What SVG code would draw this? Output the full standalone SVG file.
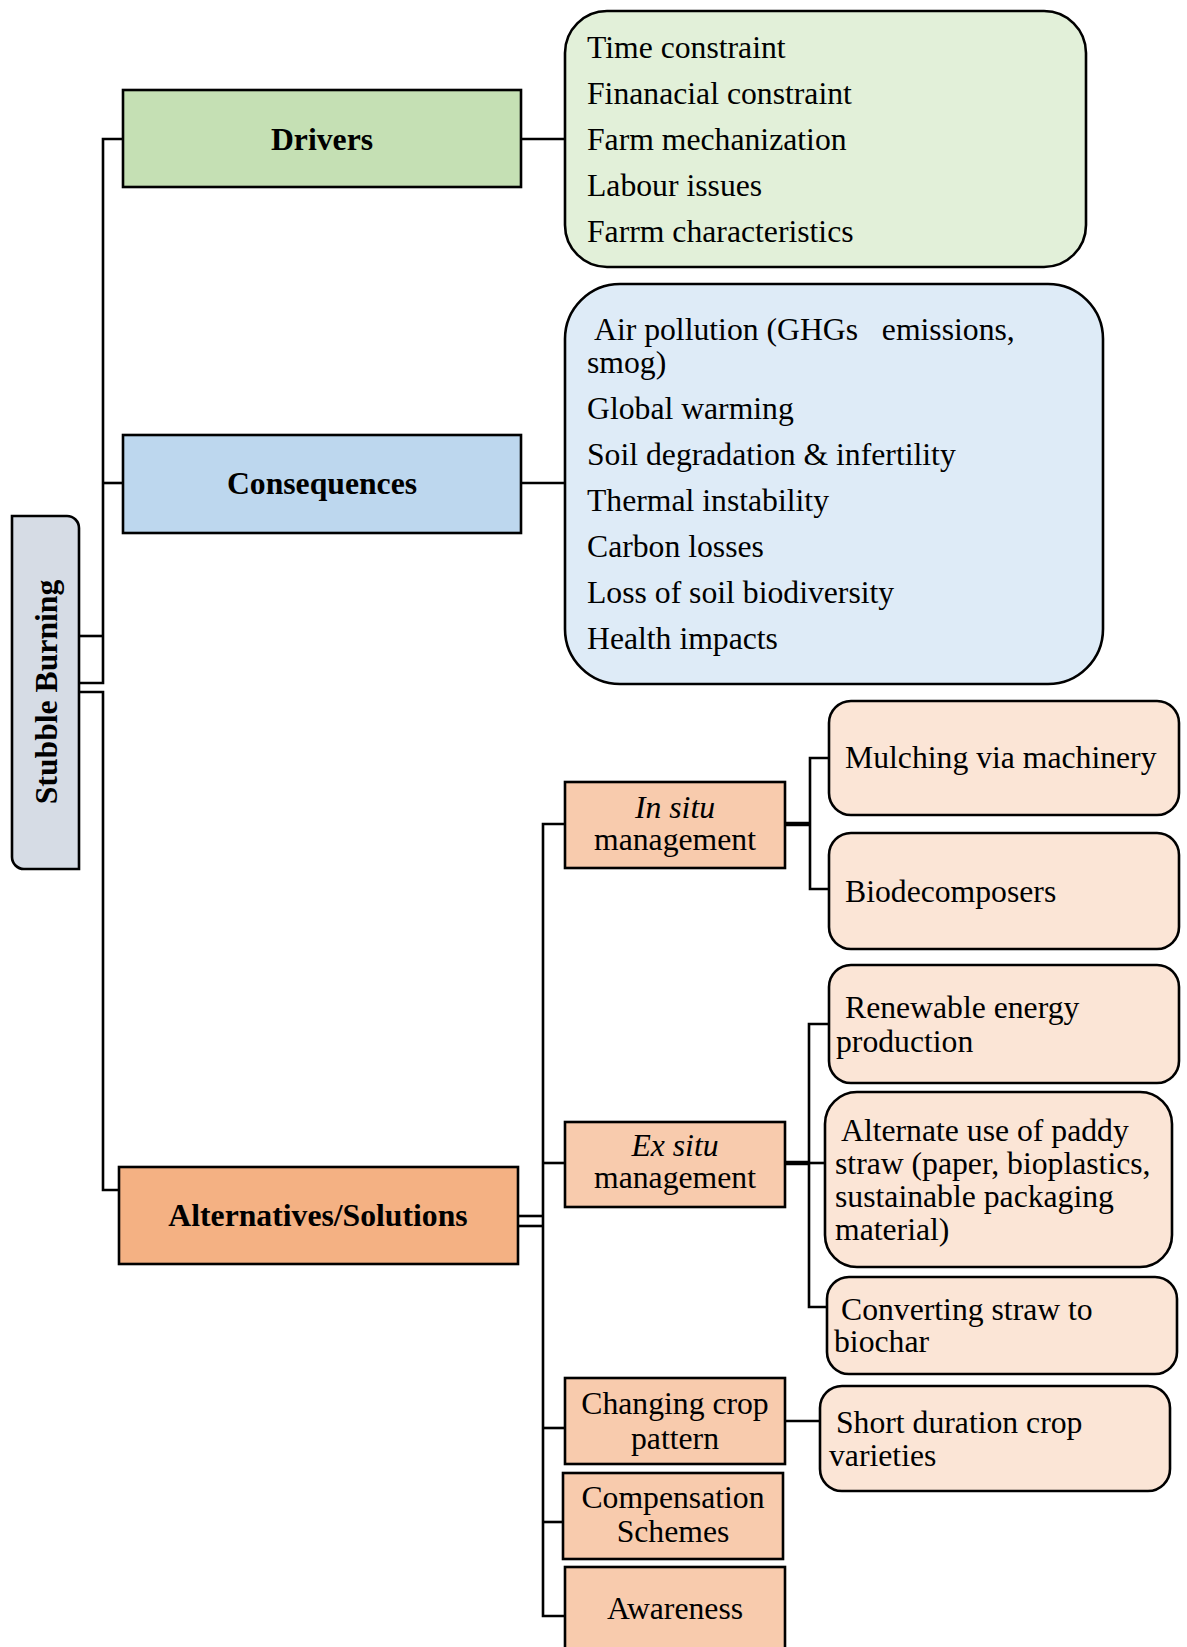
<svg xmlns="http://www.w3.org/2000/svg" width="1187" height="1647" viewBox="0 0 1187 1647">
<style>
text{font-family:"Liberation Serif","Times New Roman",serif;font-size:31.7px;fill:#000}
.b{font-weight:bold}
.c{text-anchor:middle}
.i{font-style:italic}
.box{stroke:#000;stroke-width:2.6}
.ln{fill:none;stroke:#000;stroke-width:2.6}
.thk{fill:none;stroke:#000;stroke-width:4.5}
</style>
<rect width="1187" height="1647" fill="#fff"/>
<g id="connectors">
<polyline class="ln" points="123,139 103,139 103,683 79,683"/>
<line class="ln" x1="79" y1="636" x2="103" y2="636"/>
<line class="ln" x1="103" y1="483" x2="123" y2="483"/>
<polyline class="ln" points="79,692 103,692 103,1190 119,1190"/>
<line class="ln" x1="521" y1="139" x2="565" y2="139"/>
<line class="ln" x1="521" y1="483" x2="565" y2="483"/>
<line class="ln" x1="518" y1="1216" x2="543" y2="1216"/>
<line class="ln" x1="518" y1="1226" x2="543" y2="1226"/>
<polyline class="ln" points="565,824 543,824 543,1616 565,1616"/>
<line class="ln" x1="543" y1="1163" x2="565" y2="1163"/>
<line class="ln" x1="543" y1="1428" x2="565" y2="1428"/>
<line class="ln" x1="543" y1="1522" x2="563" y2="1522"/>
<line class="thk" x1="785" y1="824" x2="810" y2="824"/>
<polyline class="ln" points="829,758 810,758 810,889 829,889"/>
<line class="thk" x1="785" y1="1163" x2="809" y2="1163"/>
<line class="ln" x1="809" y1="1163" x2="825" y2="1163"/>
<polyline class="ln" points="829,1024 809,1024 809,1307 827,1307"/>
<line class="ln" x1="785" y1="1421" x2="820" y2="1421"/>
</g>
<g id="stubble">
<path class="box" fill="#d6dce5" d="M12,516 H67 A12,12 0 0 1 79,528 V869 H24 A12,12 0 0 1 12,857 Z"/>
<text class="b c" x="57" y="692" transform="rotate(-90 57 692)">Stubble Burning</text>
</g>
<g id="drivers">
<rect class="box" x="123" y="90" width="398" height="97" fill="#c5e0b4"/>
<text class="b c" x="322" y="150">Drivers</text>
</g>
<g id="consequences">
<rect class="box" x="123" y="435" width="398" height="98" fill="#bdd7ee"/>
<text class="b c" x="322" y="494">Consequences</text>
</g>
<g id="alternatives">
<rect class="box" x="119" y="1167" width="399" height="97" fill="#f4b183"/>
<text class="b c" x="318" y="1226">Alternatives/Solutions</text>
</g>
<g id="drivers-list">
<rect class="box" x="565" y="11" width="521" height="256" rx="42" fill="#e2f0d9"/>
<text x="587" y="58">Time constraint</text>
<text x="587" y="104">Finanacial constraint</text>
<text x="587" y="150">Farm mechanization</text>
<text x="587" y="196">Labour issues</text>
<text x="587" y="242">Farrm characteristics</text>
</g>
<g id="consequences-list">
<rect class="box" x="565" y="284" width="538" height="400" rx="55" fill="#deebf7"/>
<text x="594" y="340" style="white-space:pre">Air pollution (GHGs   emissions,</text>
<text x="587" y="373">smog)</text>
<text x="587" y="419">Global warming</text>
<text x="587" y="465">Soil degradation &amp; infertility</text>
<text x="587" y="511">Thermal instability</text>
<text x="587" y="557">Carbon losses</text>
<text x="587" y="603">Loss of soil biodiversity</text>
<text x="587" y="649">Health impacts</text>
</g>
<g id="insitu">
<rect class="box" x="565" y="782" width="220" height="86" fill="#f8cbad"/>
<text class="c i" x="675" y="818">In situ</text>
<text class="c" x="675" y="850">management</text>
</g>
<g id="exsitu">
<rect class="box" x="565" y="1122" width="220" height="85" fill="#f8cbad"/>
<text class="c i" x="675" y="1156">Ex situ</text>
<text class="c" x="675" y="1188">management</text>
</g>
<g id="changing">
<rect class="box" x="565" y="1378" width="220" height="86" fill="#f8cbad"/>
<text class="c" x="675" y="1414">Changing crop</text>
<text class="c" x="675" y="1449">pattern</text>
</g>
<g id="compensation">
<rect class="box" x="563" y="1473" width="220" height="86" fill="#f8cbad"/>
<text class="c" x="673" y="1508">Compensation</text>
<text class="c" x="673" y="1542">Schemes</text>
</g>
<g id="awareness">
<rect class="box" x="565" y="1567" width="220" height="100" fill="#f8cbad"/>
<text class="c" x="675" y="1619">Awareness</text>
</g>
<g id="mulching">
<rect class="box" x="829" y="701" width="350" height="114" rx="22" fill="#fbe5d6"/>
<text x="845" y="768">Mulching via machinery</text>
</g>
<g id="biodecomposers">
<rect class="box" x="829" y="833" width="350" height="116" rx="22" fill="#fbe5d6"/>
<text x="845" y="902">Biodecomposers</text>
</g>
<g id="renewable">
<rect class="box" x="829" y="965" width="350" height="118" rx="22" fill="#fbe5d6"/>
<text x="845" y="1018">Renewable energy</text>
<text x="836" y="1052">production</text>
</g>
<g id="alternate">
<rect class="box" x="825" y="1092" width="347" height="175" rx="32" fill="#fbe5d6"/>
<text x="841" y="1141">Alternate use of paddy</text>
<text x="835" y="1174">straw (paper, bioplastics,</text>
<text x="835" y="1207">sustainable packaging</text>
<text x="835" y="1240">material)</text>
</g>
<g id="biochar">
<rect class="box" x="827" y="1277" width="350" height="97" rx="22" fill="#fbe5d6"/>
<text x="841" y="1320">Converting straw to</text>
<text x="834" y="1352">biochar</text>
</g>
<g id="shortduration">
<rect class="box" x="820" y="1386" width="350" height="105" rx="22" fill="#fbe5d6"/>
<text x="836" y="1433">Short duration crop</text>
<text x="829" y="1466">varieties</text>
</g>
</svg>
